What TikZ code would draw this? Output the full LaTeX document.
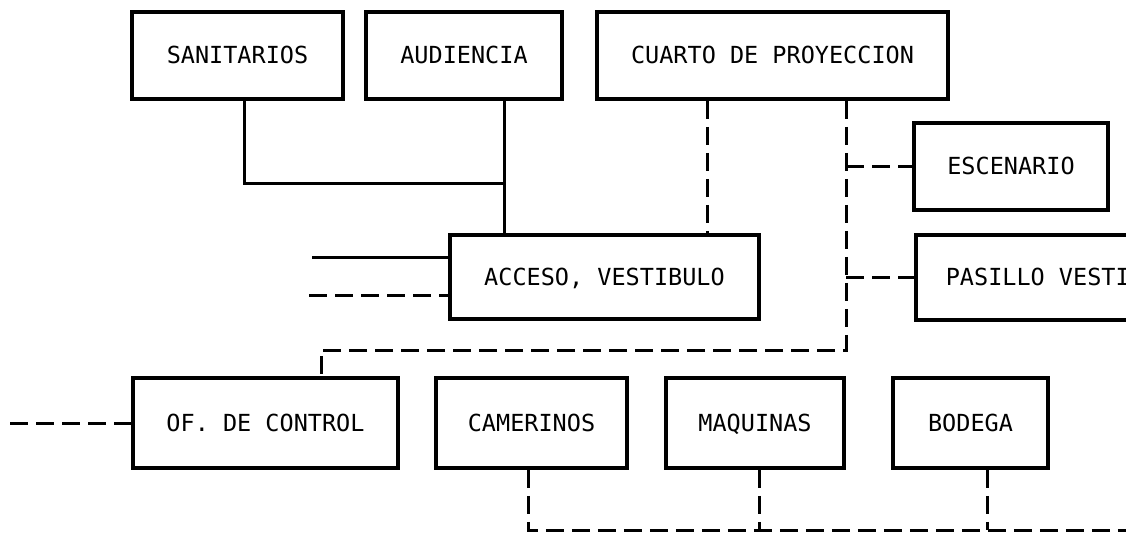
\documentclass[tikz,border=0pt]{standalone}
\usepackage{fontspec}
\setmonofont{DejaVu Sans Mono}
\begin{document}
\begin{tikzpicture}[x=1pt,y=-1pt,
  room/.style={draw=black, line width=3.6pt, inner sep=0pt, minimum height=87pt,
    text height=17pt, text depth=0pt,
    font=\ttfamily\fontsize{23.5}{23.5}\selectfont},
  link/.style={draw=black, line width=3pt},
  dlink/.style={draw=black, line width=3pt, dash pattern=on 18pt off 8pt}]
\clip (0,0) rectangle (1126,534);
\useasboundingbox (0,0) rectangle (1126,534);
% top row
\node[room, minimum width=211pt] (san) at (237.5,55.5) {SANITARIOS};
\node[room, minimum width=196pt] (aud) at (464,55.5) {AUDIENCIA};
\node[room, minimum width=351pt] (cua) at (772.5,55.5) {CUARTO DE PROYECCION};
% right column
\node[room, minimum width=194pt] (esc) at (1011,166.5) {ESCENARIO};
\node[room, anchor=west, inner xsep=30pt, minimum height=85pt] (pas) at (914,277.5)
     {\makebox[260pt][l]{PASILLO VESTI}};
% centre
\node[room, minimum width=309pt, minimum height=84pt] (acc) at (604.5,277) {ACCESO, VESTIBULO};
% bottom row
\node[room, minimum width=265pt, minimum height=90pt] (ofc) at (265.5,423) {OF. DE CONTROL};
\node[room, minimum width=191pt, minimum height=90pt] (cam) at (531.5,423) {CAMERINOS};
\node[room, minimum width=178pt, minimum height=90pt] (maq) at (755,423) {MAQUINAS};
\node[room, minimum width=155pt, minimum height=90pt] (bod) at (970.5,423) {BODEGA};
% junction coordinates
\coordinate (j0) at (244,184);
\coordinate (j1) at (504,184);
\coordinate (c1) at (707,0);
\coordinate (c2) at (846,350);
\coordinate (c3) at (321,350);
\coordinate (s1) at (312,258);
\coordinate (s2) at (309,296);
\coordinate (o1) at (10,423);
\coordinate (b1) at (528,530);
\coordinate (b2) at (1130,530);
\coordinate (m1) at (759,530);
\coordinate (d1) at (987,530);
% solid connectors
\draw[link] (san.south -| j0) -- (j0) -- (j1);
\draw[link] (aud.south -| j1) -- (acc.north -| j1);
\draw[link] (s1) -- (s1 -| acc.west);
% dashed connectors
\draw[dlink] (cua.south -| c1) -- (acc.north -| c1);
\draw[dlink] (cua.south -| c2) -- (c2) -- (c3) -- (ofc.north -| c3);
\draw[dlink] (esc.west -| c2) -- (esc.west);
\draw[dlink] (pas.west -| c2) -- (pas.west);
\draw[dlink] (s2) -- (s2 -| acc.west);
\draw[dlink] (o1) -- (ofc.west);
\draw[dlink] (cam.south -| b1) -- (b1) -- (b2);
\draw[dlink] (maq.south -| m1) -- (m1);
\draw[dlink] (bod.south -| d1) -- (d1);
\end{tikzpicture}
\end{document}
